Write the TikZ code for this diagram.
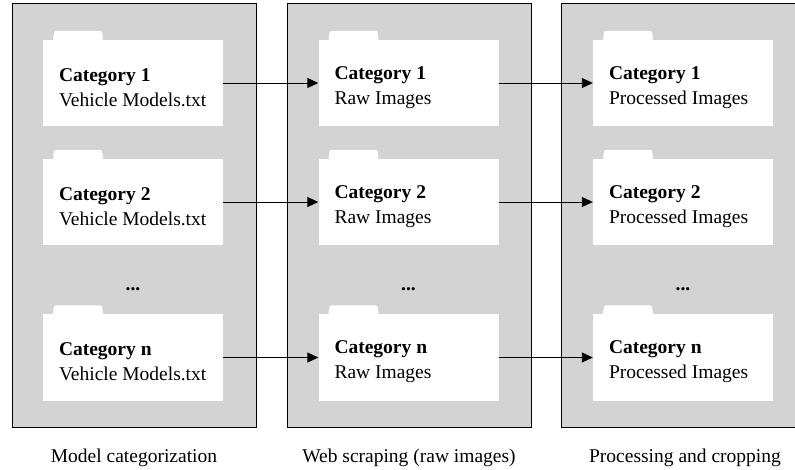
\documentclass[tikz,border=0pt]{standalone}
\usepackage{fontspec}
\setmainfont{Liberation Serif}
\usetikzlibrary{arrows.meta}
\definecolor{panelgray}{RGB}{211,211,211}
\begin{document}
\begin{tikzpicture}[x=1pt,y=-1pt,
  font=\fontsize{19.5}{25}\selectfont,
  panel/.style={draw=black,line width=1pt,fill=panelgray,minimum width=244pt,minimum height=423pt,inner sep=0pt},
  folder/.style={fill=white,minimum width=180pt,minimum height=86pt,inner sep=0pt},
  foldertext/.style={anchor=west,inner sep=0pt,align=left},
  tab/.style={fill=white,rounded corners=1.5pt},
  flow/.style={draw=black,line width=0.9pt,-{Triangle[length=11pt,width=10pt]}},
  dots/.style={font=\fontsize{19.5}{25}\selectfont\bfseries},
  caption/.style={inner sep=0pt}
]
\useasboundingbox (0,0) rectangle (795,470);
\clip (0,0) rectangle (795,470);
% panels
\node[panel] (p1) at (134,215.5) {};
\node[panel] (p2) at (409,215.5) {};
\node[panel] (p3) at (683,215.5) {};
% folders
\foreach \c/\lab in {1/Vehicle Models.txt,2/Raw Images,3/Processed Images}{
  \pgfmathsetmacro{\xc}{\c==1 ? 133 : (\c==2 ? 408.5 : 683)}
  \foreach \r/\y/\cat in {1/83/1,2/202/2,3/357.5/n}{
    \node[folder] (f\c\r) at (\xc,\y) {};
    \path[tab] ([xshift=10pt,yshift=-0.5pt]f\c\r.north west) -- ([xshift=11.5pt,yshift=9pt]f\c\r.north west)
      -- ([xshift=59pt,yshift=9pt]f\c\r.north west) -- ([xshift=60.5pt,yshift=-0.5pt]f\c\r.north west) -- cycle;
    \node[foldertext] (t\c\r) at ([xshift=16pt,yshift=-4.5pt]f\c\r.west) {\textbf{Category \cat}\\\lab};
  }
  \node[dots] (d\c) at (\xc,289.5) {...};
}
% arrows
\foreach \r in {1,2,3}{
  \draw[flow] (f1\r.east) -- (f2\r.west);
  \draw[flow] (f2\r.east) -- (f3\r.west);
}
% captions
\node[caption] (c1) at (134,458) {Model categorization};
\node[caption] (c2) at (409,458) {Web scraping (raw images)};
\node[caption] (c3) at (685,458) {Processing and cropping};
\end{tikzpicture}
\end{document}
